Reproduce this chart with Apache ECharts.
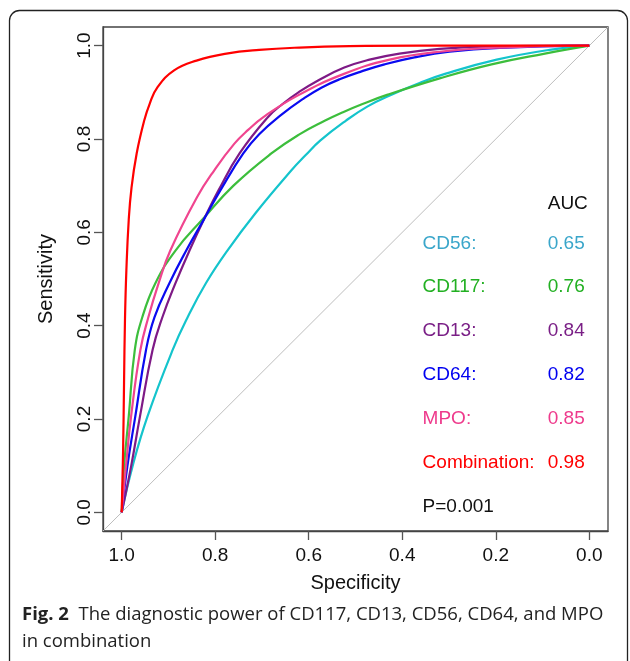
<!DOCTYPE html>
<html><head><meta charset="utf-8">
<script src="https://cdn.jsdelivr.net/npm/echarts@6/dist/echarts.min.js"></script>
<style>html,body{margin:0;padding:0;background:#fff}#c{width:630px;height:661px}</style>
</head><body><div id="c"></div>
<script>
// tick labels
const tickValues = [0, 0.2, 0.4, 0.6, 0.8, 1.0];
// ROC curves: [specificity, sensitivity]
const cd56 = [[1,0],[0.977,0.098],[0.945,0.205],[0.891,0.348],[0.859,0.418],[0.820,0.491],[0.774,0.561],[0.714,0.641],[0.637,0.733],[0.607,0.765],[0.575,0.797],[0.521,0.839],[0.474,0.870],[0.423,0.895],[0.363,0.920],[0.307,0.940],[0.198,0.970],[0.085,0.991],[0,1]];
const cd117 = [[1,0],[0.995,0.098],[0.985,0.205],[0.972,0.348],[0.956,0.418],[0.928,0.491],[0.885,0.561],[0.825,0.630],[0.761,0.700],[0.680,0.769],[0.620,0.810],[0.566,0.839],[0.528,0.857],[0.485,0.875],[0.431,0.895],[0.320,0.930],[0.209,0.960],[0.095,0.983],[0,1]];
const cd13 = [[1,0],[0.980,0.098],[0.961,0.205],[0.934,0.348],[0.913,0.418],[0.885,0.491],[0.855,0.561],[0.823,0.630],[0.793,0.690],[0.748,0.769],[0.688,0.846],[0.656,0.875],[0.622,0.900],[0.581,0.925],[0.524,0.953],[0.470,0.970],[0.406,0.983],[0.320,0.993],[0.213,0.998],[0,1]];
const cd64 = [[1,0],[0.988,0.098],[0.971,0.205],[0.948,0.348],[0.930,0.418],[0.898,0.491],[0.862,0.561],[0.823,0.630],[0.789,0.690],[0.740,0.769],[0.706,0.810],[0.661,0.850],[0.609,0.888],[0.573,0.910],[0.534,0.928],[0.487,0.945],[0.438,0.960],[0.374,0.975],[0.299,0.987],[0.192,0.995],[0,1]];
const mpo = [[1,0],[0.991,0.098],[0.980,0.205],[0.960,0.348],[0.943,0.418],[0.921,0.491],[0.896,0.561],[0.839,0.675],[0.802,0.733],[0.759,0.790],[0.729,0.820],[0.697,0.847],[0.624,0.893],[0.526,0.939],[0.427,0.970],[0.320,0.987],[0.192,0.996],[0,1]];
const combination = [[1,0],[0.997,0.134],[0.995,0.277],[0.993,0.412],[0.990,0.519],[0.985,0.626],[0.979,0.696],[0.968,0.769],[0.952,0.839],[0.940,0.876],[0.924,0.910],[0.888,0.947],[0.840,0.968],[0.776,0.983],[0.706,0.991],[0.620,0.996],[0.513,0.999],[0.363,1],[0,1]];
const diagonal = [[1.04,-0.04],[-0.04,1.04]];
// legend
const names = ['CD56:', 'CD117:', 'CD13:', 'CD64:', 'MPO:', 'Combination:'];
const aucs = ['0.65', '0.76', '0.84', '0.82', '0.85', '0.98'];
const pText = 'P=0.001';

const lineColors = ['#14C4CC', '#3CBE3C', '#7E1A86', '#0A0AF0', '#F0458F', '#FF0000'];
const textColors = ['#3AA6CA', '#22B022', '#7A1F86', '#0000F0', '#EE3A8C', '#FF0000'];
const curves = [cd56, cd117, cd13, cd64, mpo, combination];

const chart = echarts.init(document.getElementById('c'));
const AX = 'Liberation Sans, Arial, sans-serif';

// annotation layout (data coordinates)
const nameX = 0.3565, valX = 0.0889, aucY = 0.662, row0Y = 0.5765, rowStep = 0.0940;

const series = [{
  type: 'line', data: diagonal, showSymbol: false, silent: true, clip: false,
  lineStyle: {color: '#BDBDBD', width: 1}, z: 1
}];
curves.forEach((d, i) => series.push({
  type: 'line', data: d, showSymbol: false, smooth: 0.45, silent: true,
  lineStyle: {color: lineColors[i], width: 2.2}, z: 2 + i
}));
const lab = (x, y, txt, color) => ({value: [x, y], label: {formatter: txt, color: color}});
const texts = [lab(valX, aucY, 'AUC', '#111')];
names.forEach((n, i) => {
  texts.push(lab(nameX, row0Y - i * rowStep, n, textColors[i]));
  texts.push(lab(valX, row0Y - i * rowStep, aucs[i], textColors[i]));
});
texts.push(lab(nameX, row0Y - names.length * rowStep, pText, '#111'));
series.push({
  type: 'scatter', symbolSize: 0, silent: true, data: texts, z: 20,
  itemStyle: {opacity: 1},
  label: {show: true, position: [0, 0], align: 'left', verticalAlign: 'middle',
          fontFamily: AX, fontSize: 19, opacity: 1}
});

chart.setOption({
  animation: false,
  grid: {left: 103, top: 27, width: 505, height: 504, show: true,
         borderColor: '#444', borderWidth: 1.3},
  xAxis: {
    type: 'value', inverse: true, min: -0.04, max: 1.04,
    axisLine: {show: true, onZero: false, lineStyle: {color: '#444', width: 1.3}},
    axisTick: {show: true, customValues: tickValues, length: 9, lineStyle: {color: '#555', width: 1.3}},
    axisLabel: {customValues: tickValues, formatter: v => v.toFixed(1), margin: 15,
                fontFamily: AX, fontSize: 19, color: '#111'},
    splitLine: {show: false},
    name: 'Specificity', nameLocation: 'middle', nameGap: 42,
    nameTextStyle: {fontFamily: AX, fontSize: 20, color: '#111'}
  },
  yAxis: {
    type: 'value', min: -0.04, max: 1.04,
    axisLine: {show: true, onZero: false, lineStyle: {color: '#444', width: 1.3}},
    axisTick: {show: true, customValues: tickValues, length: 9, lineStyle: {color: '#555', width: 1.3}},
    axisLabel: {customValues: tickValues, formatter: v => v.toFixed(1), margin: 9, rotate: 90,
                fontFamily: AX, fontSize: 19, color: '#111'},
    splitLine: {show: false},
    name: 'Sensitivity', nameLocation: 'middle', nameGap: 47,
    nameTextStyle: {fontFamily: AX, fontSize: 20, color: '#111'}
  },
  series: series,
  graphic: [
    {type: 'rect', shape: {x: 9.5, y: 10.5, width: 618, height: 662, r: 10},
     style: {fill: 'none', stroke: '#222', lineWidth: 1.3}, silent: true},
    {type: 'text', left: 22, top: 601, style: {
      text: '{b|Fig. 2}  The diagnostic power of CD117, CD13, CD56, CD64, and MPO\nin combination',
      fontFamily: 'Open Sans', fontSize: 18.5, lineHeight: 27, fill: '#222',
      rich: {b: {fontFamily: 'Open Sans', fontWeight: 'bold', fontSize: 18.5, fill: '#222'}}
    }}
  ]
});
</script>
</body></html>
